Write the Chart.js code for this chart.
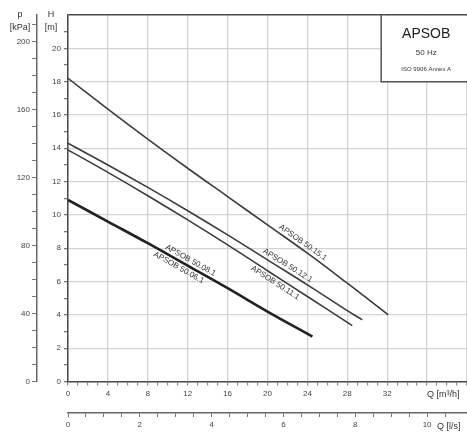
<!DOCTYPE html>
<html>
<head>
<meta charset="utf-8">
<script src="https://cdn.jsdelivr.net/npm/chart.js@4/dist/chart.umd.min.js"></script>
<style>
  html, body { margin: 0; padding: 0; background: #fff; overflow: hidden; }
  #wrap { width: 467px; height: 434px; overflow: hidden; }
</style>
</head>
<body>
<div id="wrap"><canvas id="pumpChart" width="470" height="434"></canvas></div>
<script>
// flow in m3/h, head in m
const flow1510 = [0, 4, 8, 12, 16, 20, 24, 28, 32.1];
const head1510 = [18.2, 16.35, 14.55, 12.8, 11.1, 9.4, 7.7, 5.9, 4.0];

const flow1210 = [0, 4, 8, 12, 16, 20, 24, 28, 29.5];
const head1210 = [14.3, 13.0, 11.65, 10.25, 8.8, 7.3, 5.8, 4.25, 3.7];

const flow1110 = [0, 4, 8, 12, 16, 20, 24, 28, 28.5];
const head1110 = [13.9, 12.55, 11.15, 9.7, 8.2, 6.65, 5.1, 3.55, 3.35];

const flow0810 = [0, 4, 8, 12, 16, 20, 24.5];
const head0810 = [10.9, 9.6, 8.3, 6.95, 5.6, 4.2, 2.7];

const curveNames = ['APSOB 50.15.1', 'APSOB 50.12.1', 'APSOB 50.11.1', 'APSOB 50.08.1', 'APSOB 50.06.1'];
// where each name sits along its curve (flow), and on which side
const labelFlow = [23.2, 21.7, 21.1, 12.0, 11.4];
const labelSide = ['above', 'above', 'below', 'above', 'below'];
const labelCurve = [0, 1, 2, 3, 3];

const flowTicksM3h = [0, 4, 8, 12, 16, 20, 24, 28, 32];
const flowTicksLs = [0, 2, 4, 6, 8, 10];
const headTicks = [0, 2, 4, 6, 8, 10, 12, 14, 16, 18, 20];
const pressureTicks = [0, 40, 80, 120, 160, 200];

const boxTitle = 'APSOB';
const boxFreq = '50 Hz';
const boxNorm = 'ISO 9906 Annex A';

const toPoints = (qs, hs) => qs.map((q, i) => ({ x: q, y: hs[i] }));

const FONT = '"Liberation Sans", Arial, sans-serif';
const axisDark = '#4a4a4a';
const gridGray = '#d4d4d4';

function curvePoint(meta, q) {
  const parsed = meta._parsed;
  let i = 0;
  while (i < parsed.length - 2 && parsed[i + 1].x < q) i++;
  const a = parsed[i], b = parsed[i + 1];
  const t = (q - a.x) / (b.x - a.x);
  return { x: q, y: a.y + (b.y - a.y) * t, slope: (b.y - a.y) / (b.x - a.x) };
}

const textPlugin = {
  id: 'textPlugin',
  afterDraw(chart) {
    const ctx = chart.ctx;
    const sx = chart.scales.x, sy = chart.scales.y, sx2 = chart.scales.x2;
    ctx.save();

    // curve names along the curves
    ctx.fillStyle = '#333';
    ctx.font = '8px ' + FONT;
    ctx.textAlign = 'center';
    curveNames.forEach((name, k) => {
      const meta = chart.getDatasetMeta(labelCurve[k]);
      const p = curvePoint(meta, labelFlow[k]);
      const px = sx.getPixelForValue(p.x), py = sy.getPixelForValue(p.y);
      const px2 = sx.getPixelForValue(p.x + 1), py2 = sy.getPixelForValue(p.y + p.slope);
      const ang = Math.atan2(py2 - py, px2 - px);
      ctx.save();
      ctx.translate(px, py);
      ctx.rotate(ang);
      if (labelSide[k] === 'above') {
        ctx.textBaseline = 'bottom';
        ctx.fillText(name, 0, -2);
      } else {
        ctx.textBaseline = 'top';
        ctx.fillText(name, 0, 2);
      }
      ctx.restore();
    });

    // axis titles
    ctx.fillStyle = '#333';
    ctx.font = '9px ' + FONT;
    ctx.textAlign = 'center';
    ctx.textBaseline = 'middle';
    ctx.fillText('p', 20, 15);
    ctx.fillText('[kPa]', 20, 28);
    ctx.fillText('H', 51, 15);
    ctx.fillText('[m]', 51, 28);
    ctx.textAlign = 'left';
    ctx.fillText('Q [m\u00b3/h]', sx.getPixelForValue(36), sy.bottom + 13);
    ctx.fillText('Q [l/s]', sx2.getPixelForValue(10) + 10, sx2.top + 14);

    // info box in the top-right corner
    const bx = sx.getPixelForValue(31.4), by = sy.top, bb = sy.getPixelForValue(18);
    ctx.fillStyle = '#fff';
    ctx.fillRect(bx, by + 1, chart.width - bx, bb - by - 1);
    ctx.strokeStyle = '#555';
    ctx.lineWidth = 1.5;
    ctx.beginPath();
    ctx.moveTo(chart.width, bb);
    ctx.lineTo(bx, bb);
    ctx.lineTo(bx, by);
    ctx.stroke();
    const cx = bx + 45;
    ctx.fillStyle = '#222';
    ctx.textAlign = 'center';
    ctx.font = '14px ' + FONT;
    ctx.fillText(boxTitle, cx, by + 19);
    ctx.fillStyle = '#333';
    ctx.font = '8px ' + FONT;
    ctx.fillText(boxFreq, cx, by + 38);
    ctx.font = '6px ' + FONT;
    ctx.fillText(boxNorm, cx, by + 54);
    ctx.restore();
  }
};

const tickFont = { family: FONT, size: 8 };

new Chart(document.getElementById('pumpChart'), {
  type: 'line',
  data: {
    datasets: [
      { data: toPoints(flow1510, head1510), borderColor: '#3c3c3c', borderWidth: 1.6 },
      { data: toPoints(flow1210, head1210), borderColor: '#3c3c3c', borderWidth: 1.6 },
      { data: toPoints(flow1110, head1110), borderColor: '#3c3c3c', borderWidth: 1.6 },
      { data: toPoints(flow0810, head0810), borderColor: '#222', borderWidth: 2.6 }
    ]
  },
  options: {
    responsive: false,
    animation: false,
    devicePixelRatio: 1,
    layout: { padding: { top: 15, right: 2, left: 0, bottom: 0 } },
    elements: {
      point: { radius: 0 },
      line: { tension: 0.4, fill: false }
    },
    plugins: { legend: { display: false }, tooltip: { enabled: false } },
    scales: {
      x: {
        type: 'linear', position: 'bottom', weight: 0, min: 0, max: 40,
        ticks: {
          stepSize: 1, autoSkip: false, maxRotation: 0, padding: 3,
          color: '#444', font: tickFont,
          callback: v => flowTicksM3h.includes(v) ? v : ''
        },
        grid: {
          color: c => c.tick.value % 4 === 0 ? gridGray : 'rgba(0,0,0,0)',
          lineWidth: 1.3, tickLength: 4, tickColor: '#777', tickWidth: 1
        },
        border: { color: axisDark, width: 1.5 },
        afterFit: s => { s.height = 31.5; }
      },
      x2: {
        type: 'linear', position: 'bottom', weight: 1, min: 0, max: 40 / 3.6,
        ticks: {
          stepSize: 0.5, autoSkip: false, maxRotation: 0, padding: 3,
          color: '#444', font: tickFont,
          callback: v => flowTicksLs.includes(v) ? v : ''
        },
        grid: { drawOnChartArea: false, tickLength: 4, tickColor: '#777' },
        border: { color: '#666', width: 1.5 },
        afterFit: s => { s.height = 21; }
      },
      y: {
        type: 'linear', position: 'left', weight: 0, min: 0, max: 22,
        ticks: {
          stepSize: 1, autoSkip: false, padding: 3,
          color: '#444', font: tickFont,
          callback: v => headTicks.includes(v) ? v : ''
        },
        grid: {
          color: c => c.tick.value === 22 ? axisDark : (c.tick.value % 2 === 0 ? gridGray : 'rgba(0,0,0,0)'),
          lineWidth: c => c.tick.value === 22 ? 1.5 : 1.3,
          tickLength: 4,
          tickColor: c => c.tick.value === 22 ? 'rgba(0,0,0,0)' : '#777'
        },
        border: { color: axisDark, width: 1.5 },
        afterFit: s => { s.width = 31; }
      },
      y2: {
        type: 'linear', position: 'left', weight: 1, min: 0, max: 22 * 9.81,
        ticks: {
          stepSize: 10, autoSkip: false, padding: 2,
          color: '#444', font: tickFont,
          callback: v => pressureTicks.includes(v) ? v : ''
        },
        grid: {
          drawOnChartArea: false, tickLength: 5,
          tickColor: c => c.tick.value % 10 === 0 ? '#777' : 'rgba(0,0,0,0)'
        },
        border: { color: '#666', width: 1.5 },
        afterFit: s => { s.width = 37; }
      }
    }
  },
  plugins: [textPlugin]
});
</script>
</body>
</html>
